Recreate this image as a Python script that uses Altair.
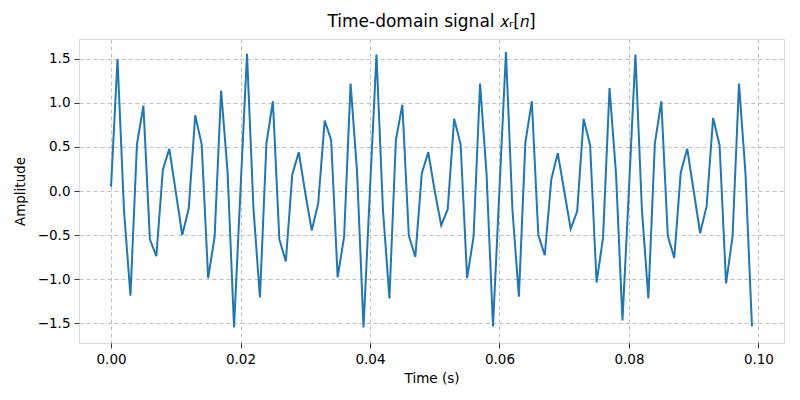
import altair as alt
import pandas as pd

time_s = [round(i * 0.001, 3) for i in range(100)]
amplitude = [
    0.05, 1.50, -0.22, -1.19, 0.53, 0.97, -0.55, -0.74, 0.24, 0.48,
    -0.01, -0.50, -0.20, 0.86, 0.53, -0.99, -0.52, 1.14, 0.22, -1.55,
    0.02, 1.56, -0.20, -1.21, 0.54, 1.02, -0.55, -0.80, 0.19, 0.44,
    -0.02, -0.45, -0.14, 0.80, 0.58, -0.98, -0.52, 1.22, 0.22, -1.55,
    0.02, 1.55, -0.21, -1.22, 0.58, 0.98, -0.51, -0.75, 0.20, 0.44,
    0.00, -0.39, -0.21, 0.82, 0.53, -0.99, -0.52, 1.22, 0.20, -1.54,
    0.02, 1.58, -0.21, -1.20, 0.55, 1.02, -0.50, -0.73, 0.13, 0.43,
    0.00, -0.43, -0.23, 0.82, 0.52, -1.04, -0.53, 1.17, 0.20, -1.47,
    0.02, 1.55, -0.21, -1.22, 0.54, 1.02, -0.51, -0.76, 0.21, 0.48,
    0.00, -0.48, -0.17, 0.83, 0.52, -1.05, -0.52, 1.22, 0.20, -1.54,
]
x_ticks = [0.0, 0.02, 0.04, 0.06, 0.08, 0.10]
y_ticks = [-1.5, -1.0, -0.5, 0.0, 0.5, 1.0, 1.5]

df = pd.DataFrame({"t": time_s, "a": amplitude})

font = "DejaVu Sans"

chart = alt.Chart(df).mark_line(color="#1f77b4", strokeWidth=2, clip=True).encode(
    x=alt.X(
        "t:Q",
        scale=alt.Scale(domain=[-0.00495, 0.10395], nice=False, zero=False),
        axis=alt.Axis(
            title="Time (s)", values=x_ticks, format=".2f",
            grid=True, gridDash=[4, 3], gridColor="#b0b0b0", gridWidth=0.8,
            domain=False, tickColor="black", tickSize=5, tickWidth=0.8,
            labelFont=font, labelFontSize=13.5, labelColor="black", labelPadding=4,
            titleFont=font, titleFontSize=13.5, titleFontWeight="normal",
            titleColor="black", titlePadding=6,
        ),
    ),
    y=alt.Y(
        "a:Q",
        scale=alt.Scale(domain=[-1.727, 1.727], nice=False, zero=False),
        axis=alt.Axis(
            title="Amplitude", values=y_ticks, format=".1f",
            grid=True, gridDash=[4, 3], gridColor="#b0b0b0", gridWidth=0.8,
            domain=False, tickColor="black", tickSize=5, tickWidth=0.8,
            labelFont=font, labelFontSize=13.5, labelColor="black", labelPadding=4,
            titleFont=font, titleFontSize=13.5, titleFontWeight="normal",
            titleColor="black", titlePadding=10,
        ),
    ),
).properties(
    width=705,
    height=304,
    title=alt.TitleParams(
        "Time-domain signal 𝑥ᵣ[𝑛]", font=font, fontSize=17,
        fontWeight="normal", color="black", offset=8, anchor="middle",
    ),
    autosize=alt.AutoSizeParams(type="none"),
    padding={"left": 79, "top": 39, "right": 16, "bottom": 57},
).configure_view(
    stroke="black", strokeWidth=1
).configure(background="white")

chart.save("out.html", embed_options={"renderer": "svg", "actions": False})
